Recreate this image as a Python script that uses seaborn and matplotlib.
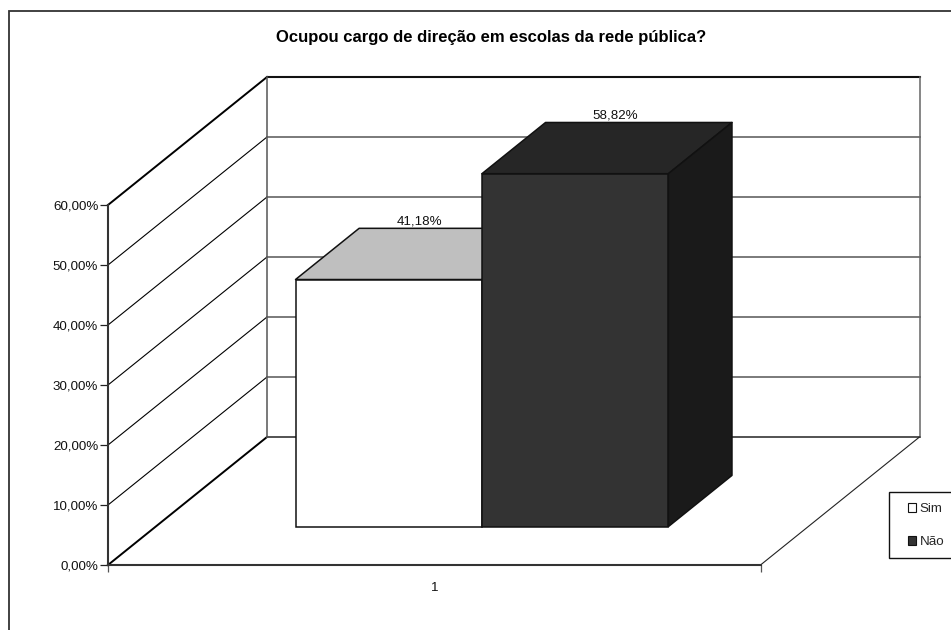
import matplotlib
matplotlib.use("Agg")
import matplotlib.pyplot as plt
from matplotlib.patches import Rectangle
from matplotlib.ticker import FuncFormatter
from matplotlib.transforms import Affine2D
import pandas as pd
import seaborn as sns

# Survey answers
answers = ["Sim", "Não"]
shares = [41.18, 58.82]
value_labels = ["41,18%", "58,82%"]
category = ["1", "1"]
title = "Ocupou cargo de direção em escolas da rede pública?"
axis_ticks = [0, 10, 20, 30, 40, 50, 60]

front_colors = {"Sim": "#FFFFFF", "Não": "#333333"}
top_colors = {"Sim": "#BFBFBF", "Não": "#262626"}
side_colors = {"Sim": "#808080", "Não": "#1A1A1A"}
label_nudge = {"Sim": -23.4, "Não": -16.6}

WIDTH, HEIGHT = 951, 630
TEXT_SIZE = 9.6
TITLE_SIZE = 12

# Oblique projection: one full unit of depth moves a point by these data offsets
DEPTH_X = 159 / 652.5
DEPTH_Y = 128 / 6.0
BAR_NEAR, BAR_FAR = 0.30, 0.70
BAR_TOTAL_WIDTH = 2 / 3.5


def project(x, value, depth):
    return x + depth * DEPTH_X, value + depth * DEPTH_Y


def fx(px):
    return px / WIDTH


def fy(px):
    return 1 - px / HEIGHT


sns.set_theme(style="ticks")
plt.rcParams["font.family"] = ["Liberation Sans", "DejaVu Sans"]
plt.rcParams["font.size"] = TEXT_SIZE

fig = plt.figure(figsize=(WIDTH / 100, HEIGHT / 100), dpi=100, facecolor="white")
ax = fig.add_axes([fx(108), fy(565), fx(760.5) - fx(108), fy(205) - fy(565)])
ax.patch.set_visible(False)

# Outer chart frame, running past the right and bottom edges
fig.add_artist(Rectangle((fx(8.5), fy(700)), fx(1100), fy(11) - fy(700),
                         transform=fig.transFigure, facecolor="none",
                         edgecolor="#333333", linewidth=1.3))

table = pd.DataFrame({"categoria": category, "resposta": answers, "valor": shares})
sns.barplot(data=table, x="categoria", y="valor", hue="resposta",
            hue_order=answers, palette=front_colors, saturation=1,
            width=BAR_TOTAL_WIDTH, gap=0, legend=False,
            edgecolor="#111111", linewidth=1.1, ax=ax)
ax.set_xlim(-0.5, 0.5)
ax.set_ylim(0, 60)

left, right = -0.5, 0.5


def wall_line(p0, p1, color, lw):
    (x0, y0), (x1, y1) = p0, p1
    ax.plot([x0, x1], [y0, y1], color=color, lw=lw, clip_on=False,
            zorder=0.5, solid_capstyle="projecting")


# Back wall and side wall grid
for tick in axis_ticks:
    strong = tick in (0, axis_ticks[-1])
    wall_line(project(left, tick, 0), project(left, tick, 1),
              "#000000", 1.4 if strong else 0.8)
    wall_line(project(left, tick, 1), project(right, tick, 1),
              "#111111" if tick == axis_ticks[-1] else "#444444" if tick == 0 else "#707070",
              1.5 if tick == axis_ticks[-1] else 1.3)
wall_line(project(left, 0, 1), project(left, axis_ticks[-1], 1), "#555555", 1.1)
wall_line(project(right, 0, 1), project(right, axis_ticks[-1], 1), "#666666", 1.1)
wall_line(project(right, 0, 0), project(right, 0, 1), "#222222", 0.8)

# Slide the seaborn bars back to their depth and add top and side faces
shift = Affine2D().translate(BAR_NEAR * DEPTH_X, BAR_NEAR * DEPTH_Y) + ax.transData
for order, (answer, container) in enumerate(zip(answers, ax.containers)):
    bar = container[0]
    bar.set_transform(shift)
    bar.set_clip_on(False)
    bar.set_zorder(3 + 2 * order)
    x0, x1 = bar.get_x(), bar.get_x() + bar.get_width()
    top = bar.get_height()
    top_face = [project(x0, top, BAR_NEAR), project(x1, top, BAR_NEAR),
                project(x1, top, BAR_FAR), project(x0, top, BAR_FAR)]
    side_face = [project(x1, 0, BAR_NEAR), project(x1, top, BAR_NEAR),
                 project(x1, top, BAR_FAR), project(x1, 0, BAR_FAR)]
    for face, colors in ((top_face, top_colors), (side_face, side_colors)):
        ax.fill(*zip(*face), facecolor=colors[answer], edgecolor="#111111",
                linewidth=1.1, clip_on=False, zorder=2 + 2 * order,
                joinstyle="round")
    mid = (x0 + x1) / 2
    ax.annotate(value_labels[order], xy=project(mid, top, BAR_FAR),
                xytext=(label_nudge[answer], 0.8), textcoords="offset points",
                ha="center", va="bottom", fontsize=TEXT_SIZE, color="#111111",
                annotation_clip=False, zorder=9)

# Axes: value scale on the left, category label centred under the floor
sns.despine(ax=ax, top=True, right=True)
for name in ("left", "bottom"):
    ax.spines[name].set_linewidth(1.5)
    ax.spines[name].set_color("#333333")
    ax.spines[name].set_zorder(1)
ax.set_xlabel("")
ax.set_ylabel("")
ax.set_yticks(axis_ticks)
ax.yaxis.set_major_formatter(FuncFormatter(lambda v, _: f"{v:.2f}%".replace(".", ",")))
ax.tick_params(axis="y", length=5.5, width=0.9, color="#222222", pad=1.5,
               labelsize=TEXT_SIZE, labelcolor="#111111")
ax.set_xticks([left, right], labels=["", ""])
ax.tick_params(axis="x", which="major", length=5, width=0.9, color="#555555")
ax.set_xticks([0], labels=[category[0]], minor=True)
ax.tick_params(axis="x", which="minor", length=0, pad=12,
               labelsize=TEXT_SIZE, labelcolor="#111111")

fig.text(fx(491.5), fy(37.5), title, ha="center", va="center",
         fontsize=TITLE_SIZE, fontweight="bold", color="black")

# Legend box, cut off by the right edge
fig.add_artist(Rectangle((fx(889), fy(558)), fx(100), fy(492) - fy(558),
                         transform=fig.transFigure, facecolor="white",
                         edgecolor="#111111", linewidth=1.0, zorder=10))
legend = fig.legend([c[0] for c in ax.containers], answers, frameon=False,
                    loc="center left", bbox_to_anchor=(fx(901), fy(525.5)),
                    fontsize=TEXT_SIZE, handlelength=0.62, handleheight=0.62,
                    handletextpad=0.28, labelspacing=1.58, borderaxespad=0,
                    borderpad=0.5)
for handle in legend.legend_handles:
    handle.set_linewidth(0.8)
legend.set_zorder(11)

fig.savefig("out.png", dpi=100)
